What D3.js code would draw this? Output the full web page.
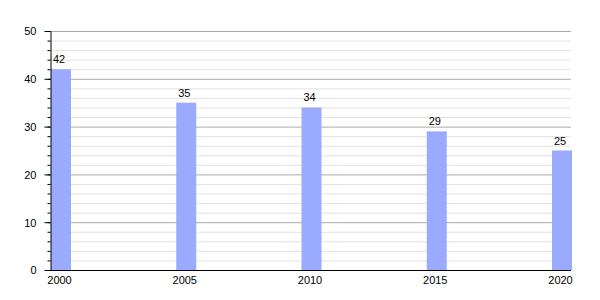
<!DOCTYPE html>
<html>
<head>
  <meta charset="UTF-8">
  <script src="https://d3js.org/d3.v7.min.js"></script>
  <style>
    body { margin: 0; background: #fff; font-family: "Liberation Sans", Arial, sans-serif; }
    .label { font-size: 11px; fill: #000; }
    .tick text { font-size: 11px; fill: #000; }
  </style>
</head>
<body>
  <div id="chart"></div>
  <script>
    const years = [2000, 2005, 2010, 2015, 2020];
    const values = [42, 35, 34, 29, 25];
    const yTicks = [0, 10, 20, 30, 40, 50];

    const margin = { top: 31, right: 29, bottom: 30, left: 50 };
    const width = 600 - margin.left - margin.right;
    const height = 300 - margin.top - margin.bottom;
    const barWidth = 20;

    const x = d3.scaleLinear()
      .domain([2000, 2020])
      .range([0, width - barWidth]);

    const y = d3.scaleLinear()
      .domain([0, 50])
      .range([height, 0]);

    const svg = d3.select("#chart")
      .append("svg")
      .attr("width", 600)
      .attr("height", 300)
      .append("g")
      .attr("transform", `translate(${margin.left}, ${margin.top})`);

    // minor grid every 2
    svg.selectAll(".minor")
      .data(d3.range(2, 50, 2).filter(v => v % 10 !== 0))
      .enter()
      .append("line")
      .attr("x1", 0)
      .attr("x2", width)
      .attr("y1", d => y(d) + 0.5)
      .attr("y2", d => y(d) + 0.5)
      .attr("stroke", "#e2e2e2");

    // major grid
    svg.selectAll(".major")
      .data(yTicks.slice(1))
      .enter()
      .append("line")
      .attr("x1", 0)
      .attr("x2", width)
      .attr("y1", d => y(d) + 0.5)
      .attr("y2", d => y(d) + 0.5)
      .attr("stroke", "#aaaaaa");

    svg.selectAll(".bar")
      .data(values)
      .enter()
      .append("rect")
      .attr("x", (d, i) => x(years[i]) + 1)
      .attr("y", d => y(d))
      .attr("width", barWidth)
      .attr("height", d => height - y(d))
      .attr("fill", "#99aaff");

    svg.selectAll(".label")
      .data(values)
      .enter()
      .append("text")
      .attr("class", "label")
      .attr("x", (d, i) => x(years[i]) + barWidth / 2 - 1)
      .attr("y", d => y(d) - 6)
      .attr("text-anchor", "middle")
      .text(d => d);

    // minor ticks
    svg.append("g")
      .attr("transform", "translate(0.5,0)")
      .call(d3.axisLeft(y).tickValues(d3.range(0, 51, 2)).tickSize(3).tickFormat(""))
      .call(g => g.select(".domain").remove());

    // y axis
    svg.append("g")
      .attr("transform", "translate(0.5,0)")
      .call(d3.axisLeft(y).tickValues(yTicks).tickSize(6).tickSizeOuter(0).tickPadding(8))
      .call(g => g.selectAll(".tick text").attr("dy", "0.35em"));

    // x axis
    svg.append("g")
      .attr("transform", `translate(0, ${height + 0.5})`)
      .call(d3.axisBottom(x.copy().range([barWidth / 2 - 1, width - barWidth / 2 - 1]))
        .tickValues(years).tickFormat(d3.format("d")).tickSize(0).tickSizeOuter(0).tickPadding(6))
      .call(g => g.select(".domain").attr("d", `M0,0H${width}`));
  </script>
</body>
</html>
